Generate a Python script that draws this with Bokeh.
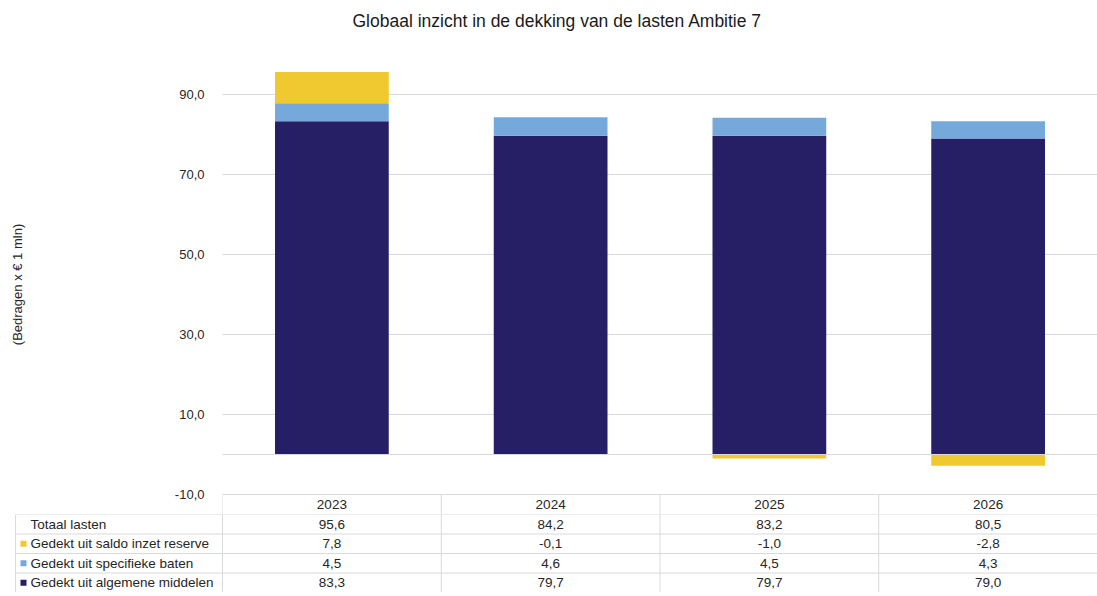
from bokeh.plotting import figure
from bokeh.models import Range1d, FixedTicker, CustomJSTickFormatter, Span, Title
from bokeh.core.properties import value
from bokeh.embed import file_html
from bokeh.resources import INLINE

# ---------------- data ----------------
years = ["2023", "2024", "2025", "2026"]
totaal_lasten = [95.6, 84.2, 83.2, 80.5]
saldo_reserve = [7.8, -0.1, -1.0, -2.8]
specifieke_baten = [4.5, 4.6, 4.5, 4.3]
algemene_middelen = [83.3, 79.7, 79.7, 79.0]
row_labels = ["Totaal lasten", "Gedekt uit saldo inzet reserve",
              "Gedekt uit specifieke baten", "Gedekt uit algemene middelen"]
y_ticks = [-10, 10, 30, 50, 70, 90]
title_text = "Globaal inzicht in de dekking van de lasten Ambitie 7"
y_label = "(Bedragen x \u20ac 1 mln)"

# ---------------- styling / layout ----------------
C_ALG = "#271f66"
C_SPEC = "#75a9dc"
C_RES = "#f0c830"
GRID = "#d9d9d9"
TXT = "#262626"
FONT = "Liberation Sans"

W = 1097
LEFT_PX = 222
PLOT_W = W - LEFT_PX
TOP_PX = 54
SCALE = 4.0          # px per unit on the value axis
ROW = 20             # header row height in px
BODY_ROW = 19.5      # table body row height in px
Y_MAX = 100
Y_MIN = -10
y_start = Y_MIN - ROW / SCALE
FRAME_H = int(round((Y_MAX - y_start) * SCALE))
H1 = TOP_PX + FRAME_H
nr = len(row_labels)
H2 = int(nr * BODY_ROW)

n = len(years)
xc = [i + 0.5 for i in range(n)]
unit = PLOT_W / n

# ---------------- chart (with the header row of the table) ----------------
p = figure(x_range=Range1d(0, n), y_range=Range1d(y_start, Y_MAX), width=W, height=H1,
           output_backend="svg", toolbar_location=None,
           min_border_left=LEFT_PX, min_border_right=0, min_border_bottom=0,
           min_border_top=TOP_PX)
p.outline_line_color = None
p.xaxis.visible = False
p.xgrid.visible = False
p.ygrid.grid_line_color = GRID
p.ygrid.grid_line_width = 1

ya = p.yaxis[0]
ya.ticker = FixedTicker(ticks=y_ticks)
ya.formatter = CustomJSTickFormatter(code="return tick.toFixed(1).replace('.', ',');")
ya.axis_line_color = None
ya.major_tick_line_color = None
ya.minor_tick_line_color = None
ya.major_label_standoff = 12
ya.major_label_text_font = FONT
ya.major_label_text_font_size = "13px"
ya.major_label_text_color = TXT
ya.axis_label = y_label
ya.axis_label_text_font = FONT
ya.axis_label_text_font_size = "13px"
ya.axis_label_text_font_style = "normal"
ya.axis_label_text_color = TXT
ya.axis_label_standoff = 147

# stacked segments computed from the series
alg_top = algemene_middelen
spec_top = [a + s for a, s in zip(algemene_middelen, specifieke_baten)]
res_bottom = [st if r >= 0 else 0 for st, r in zip(spec_top, saldo_reserve)]
res_top = [st + r if r >= 0 else r for st, r in zip(spec_top, saldo_reserve)]

bw = 0.52
p.vbar(x=xc, bottom=0, top=alg_top, width=bw, fill_color=C_ALG, line_color=None)
p.vbar(x=xc, bottom=alg_top, top=spec_top, width=bw, fill_color=C_SPEC, line_color=None)
p.vbar(x=xc, bottom=res_bottom, top=res_top, width=bw, fill_color=C_RES, line_color=None)

p.add_layout(Span(location=0, dimension="width", line_color=GRID, line_width=1))

# header row of the data table (years)
p.segment(x0=list(range(n)), y0=[Y_MIN] * n, x1=list(range(n)), y1=[y_start] * n,
          line_color=GRID, line_width=1)
p.text(x=xc, y=[(Y_MIN + y_start) / 2] * n, text=years, text_align="center",
       text_baseline="middle", text_font=value(FONT), text_font_size="13.5px",
       text_color=TXT)

# chart title (a blank spacer title keeps it clear of the plot area)
p.add_layout(Title(text=" ", text_font=FONT, text_font_size="20px", standoff=0), "above")
p.add_layout(Title(text=title_text, align="left", offset=130, text_font=FONT,
                   text_font_size="17.5px", text_font_style="normal",
                   text_color="#1a1a1a", standoff=0), "above")

# ---------------- data table body ----------------
x0 = -LEFT_PX / unit
lab_left = x0 + 15 / unit
sq_x = x0 + 23 / unit
txt_x = x0 + 30 / unit

tbl = figure(x_range=Range1d(x0, n), y_range=Range1d(nr, 0), width=W, height=H2,
             output_backend="svg", toolbar_location=None,
             min_border_left=0, min_border_right=0, min_border_top=0, min_border_bottom=0)
tbl.outline_line_color = None
tbl.axis.visible = False
tbl.grid.visible = False

sx0, sy0, sx1, sy1 = [], [], [], []
for r in range(nr + 1):
    sx0.append(lab_left); sy0.append(r); sx1.append(n); sy1.append(r)
for c in range(n):
    sx0.append(c); sy0.append(0); sx1.append(c); sy1.append(nr)
sx0.append(lab_left); sy0.append(0); sx1.append(lab_left); sy1.append(nr)
tbl.segment(x0=sx0, y0=sy0, x1=sx1, y1=sy1, line_color=GRID, line_width=1)

def fmt(v):
    return f"{v:.1f}".replace(".", ",")

rows = [totaal_lasten, saldo_reserve, specifieke_baten, algemene_middelen]
tx, ty, tt = [], [], []
for r, series in enumerate(rows):
    for i, v in enumerate(series):
        tx.append(i + 0.5); ty.append(r + 0.5); tt.append(fmt(v))
tbl.text(x=tx, y=ty, text=tt, text_align="center", text_baseline="middle",
         text_font=value(FONT), text_font_size="13.5px", text_color=TXT)

tbl.text(x=[txt_x] * nr, y=[r + 0.5 for r in range(nr)],
         text=row_labels, text_align="left", text_baseline="middle",
         text_font=value(FONT), text_font_size="13.5px", text_color=TXT)

tbl.scatter(x=[sq_x] * 3, y=[1.5, 2.5, 3.5], marker="square", size=6,
            fill_color=[C_RES, C_SPEC, C_ALG], line_color=None)

open("out.html", "w").write(file_html([p, tbl], INLINE))
